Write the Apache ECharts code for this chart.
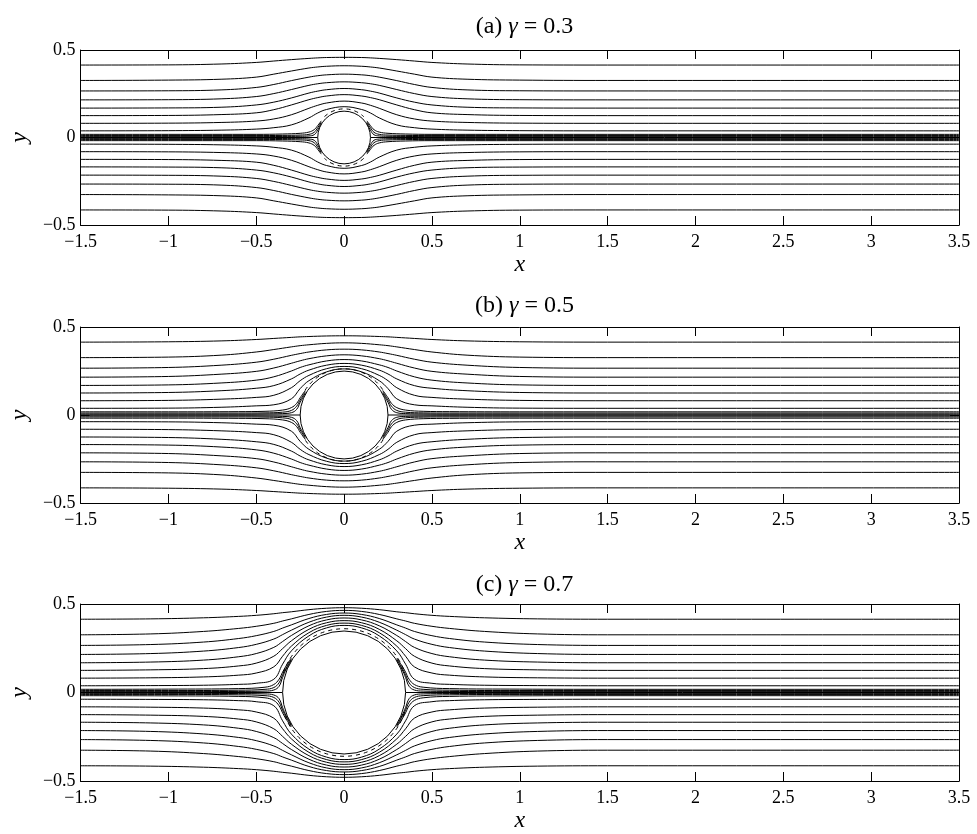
<!DOCTYPE html>
<html><head><meta charset="utf-8">
<script src="https://cdn.jsdelivr.net/npm/echarts/dist/echarts.min.js"></script>
<style>html,body{margin:0;padding:0;background:#fff}#c{width:977px;height:834px}</style>
</head><body><div id="c"></div>
<script>
// ---------- data ----------
const gammaValues = [0.3, 0.5, 0.7];
const panelTags = ['(a)', '(b)', '(c)'];

// upper-half streamlines, right half (x >= 0); mirrored in x and y for the rest
const sampleXA = [0, 0.1, 0.15, 0.2, 0.3, 0.4, 0.5, 0.7, 1.0, 1.5];
const linesA = [
  [0.176, 0.160, 0.140, 0.112, 0.072, 0.056, 0.048, 0.042, 0.039, 0.038],
  [0.208, 0.197, 0.184, 0.167, 0.130, 0.106, 0.094, 0.086, 0.082, 0.081],
  [0.245, 0.237, 0.228, 0.216, 0.186, 0.159, 0.141, 0.131, 0.126, 0.125],
  [0.280, 0.273, 0.265, 0.254, 0.226, 0.202, 0.186, 0.173, 0.169, 0.168],
  [0.318, 0.313, 0.307, 0.298, 0.274, 0.251, 0.234, 0.221, 0.216, 0.215],
  [0.362, 0.358, 0.353, 0.345, 0.325, 0.303, 0.286, 0.272, 0.267, 0.266],
  [0.410, 0.407, 0.403, 0.397, 0.380, 0.362, 0.345, 0.333, 0.328, 0.326],
  [0.458, 0.457, 0.455, 0.452, 0.445, 0.437, 0.429, 0.420, 0.415, 0.414]
];
const nearXA = [0.13, 0.15, 0.17, 0.2, 0.25, 0.35, 0.5, 1.0, 1.5];
const nearA = [
  [0.080, 0.042, 0.016, 0.009, 0.007, 0.006, 0.005, 0.005, 0.005],
  [0.088, 0.056, 0.030, 0.018, 0.014, 0.012, 0.011, 0.011, 0.011],
  [0.095, 0.068, 0.045, 0.031, 0.024, 0.020, 0.018, 0.018, 0.018]
];

const sampleXB = [0, 0.1, 0.2, 0.25, 0.3, 0.4, 0.5, 0.7, 1.0, 1.5];
const linesB = [
  [0.262, 0.245, 0.195, 0.150, 0.092, 0.058, 0.052, 0.044, 0.039, 0.038],
  [0.276, 0.263, 0.225, 0.195, 0.155, 0.112, 0.100, 0.090, 0.083, 0.081],
  [0.293, 0.283, 0.255, 0.233, 0.205, 0.167, 0.152, 0.138, 0.128, 0.125],
  [0.315, 0.307, 0.285, 0.270, 0.250, 0.217, 0.198, 0.182, 0.171, 0.168],
  [0.342, 0.336, 0.320, 0.308, 0.294, 0.267, 0.248, 0.232, 0.219, 0.215],
  [0.374, 0.370, 0.358, 0.349, 0.339, 0.317, 0.300, 0.283, 0.270, 0.266],
  [0.410, 0.407, 0.399, 0.394, 0.387, 0.372, 0.358, 0.340, 0.329, 0.326],
  [0.450, 0.449, 0.446, 0.444, 0.441, 0.435, 0.429, 0.421, 0.416, 0.414]
];
const nearXB = [0.22, 0.25, 0.27, 0.3, 0.35, 0.45, 0.6, 1.0, 1.5];
const nearB = [
  [0.125, 0.072, 0.032, 0.013, 0.008, 0.006, 0.005, 0.005, 0.005],
  [0.132, 0.085, 0.050, 0.026, 0.016, 0.012, 0.011, 0.011, 0.011],
  [0.140, 0.098, 0.066, 0.042, 0.028, 0.021, 0.019, 0.018, 0.018]
];

const sampleXC = [0, 0.1, 0.2, 0.3, 0.35, 0.4, 0.5, 0.6, 0.8, 1.1, 1.5];
const linesC = [
  [0.379, 0.365, 0.320, 0.235, 0.160, 0.075, 0.052, 0.046, 0.041, 0.039, 0.038],
  [0.392, 0.379, 0.338, 0.262, 0.205, 0.145, 0.110, 0.098, 0.088, 0.083, 0.081],
  [0.406, 0.394, 0.357, 0.292, 0.248, 0.205, 0.166, 0.150, 0.135, 0.128, 0.125],
  [0.421, 0.410, 0.377, 0.322, 0.288, 0.255, 0.220, 0.202, 0.183, 0.172, 0.168],
  [0.436, 0.426, 0.397, 0.352, 0.327, 0.302, 0.272, 0.254, 0.234, 0.220, 0.215],
  [0.449, 0.441, 0.418, 0.382, 0.364, 0.345, 0.321, 0.305, 0.285, 0.271, 0.266],
  [0.464, 0.458, 0.441, 0.416, 0.404, 0.391, 0.374, 0.362, 0.345, 0.331, 0.326],
  [0.479, 0.476, 0.468, 0.456, 0.451, 0.445, 0.436, 0.430, 0.422, 0.416, 0.414]
];
const nearXC = [0.3, 0.33, 0.35, 0.37, 0.4, 0.45, 0.6, 1.0, 1.5];
const nearC = [
  [0.183, 0.130, 0.085, 0.035, 0.014, 0.008, 0.006, 0.005, 0.005],
  [0.188, 0.138, 0.100, 0.055, 0.028, 0.018, 0.013, 0.011, 0.011],
  [0.195, 0.150, 0.115, 0.075, 0.045, 0.030, 0.022, 0.019, 0.018]
];

// ---------- chart ----------
const panels = [
  {xs: sampleXA, lines: linesA, nx: nearXA, near: nearA},
  {xs: sampleXB, lines: linesB, nx: nearXB, near: nearB},
  {xs: sampleXC, lines: linesC, nx: nearXC, near: nearC}
];
const X_MIN = -1.5, X_MAX = 3.5;
const FONT = '"Liberation Serif", "Times New Roman", serif';
const gridBoxes = [
  {left: 80, top: 50, width: 879, height: 175},
  {left: 80, top: 327, width: 879, height: 176},
  {left: 80, top: 604, width: 879, height: 177}
];
const titleTops = [10, 289, 568];
const arcGap = 0.013;
const arcSpan = [0.26, 0.18, 0.1]; // fraction of PI kept clear at each side

function fmt(v) { return v < 0 ? '\u2212' + String(-v) : String(v); }

function mirrored(xs, ys, sign) {
  const pts = [];
  for (let i = xs.length - 1; i >= 1; i--) pts.push([-xs[i], sign * ys[i]]);
  pts.push([xs[0], sign * ys[0]]);
  for (let i = 1; i < xs.length; i++) pts.push([xs[i], sign * ys[i]]);
  pts.push([X_MAX, sign * ys[ys.length - 1]]);
  return pts;
}
function oneSide(xs, ys, sign, side) {
  const pts = [];
  if (side > 0) {
    for (let i = 0; i < xs.length; i++) pts.push([xs[i], sign * ys[i]]);
    pts.push([X_MAX, sign * ys[ys.length - 1]]);
  } else {
    for (let i = xs.length - 1; i >= 0; i--) pts.push([-xs[i], sign * ys[i]]);
  }
  return pts;
}

const grid = [], xAxis = [], yAxis = [], series = [], title = [];
const axisCommon = {
  axisLine: {show: true, onZero: false, lineStyle: {color: '#000', width: 1}},
  axisTick: {show: true, inside: true, length: 9, lineStyle: {color: '#000', width: 1}},
  splitLine: {show: false}
};

panels.forEach((P, p) => {
  const R = gammaValues[p] / 2;
  grid.push(Object.assign({containLabel: false}, gridBoxes[p]));
  title.push({
    text: panelTags[p] + ' {g|\u03b3} = ' + gammaValues[p],
    left: 519.5, top: titleTops[p], textAlign: 'center',
    textStyle: {fontFamily: FONT, fontSize: 24, fontWeight: 'normal', color: '#000',
      rich: {g: {fontFamily: FONT, fontSize: 24, fontStyle: 'italic', color: '#000'}}}
  });
  xAxis.push(Object.assign({}, axisCommon, {
    type: 'value', gridIndex: p, min: X_MIN, max: X_MAX, interval: 0.5, position: 'bottom',
    axisLabel: {show: true, margin: 8, color: '#000', fontFamily: FONT, fontSize: 18, formatter: fmt,
      showMinLabel: true, showMaxLabel: true},
    name: 'x', nameLocation: 'middle', nameGap: 28,
    nameTextStyle: {fontFamily: FONT, fontStyle: 'italic', fontSize: 24, color: '#000'}
  }));
  xAxis.push(Object.assign({}, axisCommon, {
    type: 'value', gridIndex: p, min: X_MIN, max: X_MAX, interval: 0.5, position: 'top',
    axisLabel: {show: false}
  }));
  yAxis.push(Object.assign({}, axisCommon, {
    type: 'value', gridIndex: p, min: -0.5, max: 0.5, interval: 0.5, position: 'left',
    axisLabel: {show: true, margin: 5, color: '#000', fontFamily: FONT, fontSize: 18, formatter: fmt,
      showMinLabel: true, showMaxLabel: true},
    name: 'y', nameLocation: 'middle', nameGap: 48, nameRotate: 90,
    nameTextStyle: {fontFamily: FONT, fontStyle: 'italic', fontSize: 24, color: '#000'}
  }));
  yAxis.push(Object.assign({}, axisCommon, {
    type: 'value', gridIndex: p, min: -0.5, max: 0.5, interval: 0.5, position: 'right',
    axisLabel: {show: false}
  }));
  const xi = 2 * p, yi = 2 * p;
  const lineBase = {
    type: 'line', xAxisIndex: xi, yAxisIndex: yi, showSymbol: false, symbol: 'none',
    smooth: 0.4, silent: true, animation: false,
    lineStyle: {color: '#000', width: 1}, z: 2
  };
  P.lines.forEach(row => {
    series.push(Object.assign({}, lineBase, {data: mirrored(P.xs, row, 1)}));
    series.push(Object.assign({}, lineBase, {data: mirrored(P.xs, row, -1)}));
  });
  P.near.forEach(row => {
    [1, -1].forEach(sign => {
      [1, -1].forEach(side => {
        series.push(Object.assign({}, lineBase, {data: oneSide(P.nx, row, sign, side)}));
      });
    });
  });
  // dividing streamline along y = 0
  series.push(Object.assign({}, lineBase, {smooth: false, data: [[X_MIN, 0], [-R, 0]]}));
  series.push(Object.assign({}, lineBase, {smooth: false, data: [[R, 0], [X_MAX, 0]]}));
  // dashed contour fragments hugging the obstacle
  const span = arcSpan[p];
  series.push({
    type: 'custom', xAxisIndex: xi, yAxisIndex: yi, silent: true, animation: false, z: 3,
    data: [[0, 0, R + arcGap]],
    renderItem: function (params, api) {
      const c = api.coord([api.value(0), api.value(1)]);
      const r = api.size([api.value(2), 0])[0];
      const st = {fill: 'none', stroke: '#000', lineWidth: 1, lineDash: [4, 4]};
      return {type: 'group', children: [
        {type: 'arc', shape: {cx: c[0], cy: c[1], r: r, startAngle: -Math.PI * (1 - span), endAngle: -Math.PI * span, clockwise: true}, style: st},
        {type: 'arc', shape: {cx: c[0], cy: c[1], r: r, startAngle: Math.PI * span, endAngle: Math.PI * (1 - span), clockwise: true}, style: st}
      ]};
    }
  });
  // the obstacle
  series.push({
    type: 'custom', xAxisIndex: xi, yAxisIndex: yi, silent: true, animation: false, z: 4,
    data: [[0, 0, R]],
    renderItem: function (params, api) {
      const c = api.coord([api.value(0), api.value(1)]);
      const r = api.size([api.value(2), 0])[0];
      return {type: 'circle', shape: {cx: c[0], cy: c[1], r: r}, style: {fill: '#fff', stroke: '#000', lineWidth: 1}};
    }
  });
});

const chart = echarts.init(document.getElementById('c'), null, {renderer: 'canvas'});
chart.setOption({animation: false, backgroundColor: '#fff', title, grid, xAxis, yAxis, series});
</script>
</body></html>
